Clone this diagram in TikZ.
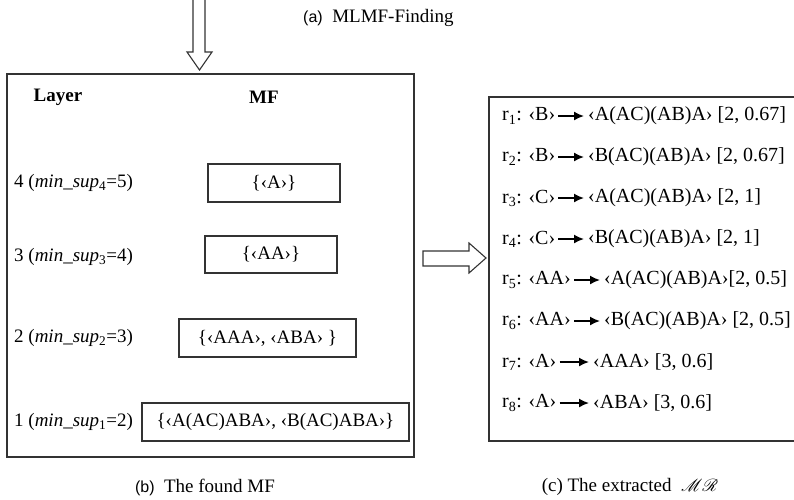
\documentclass[tikz,border=0pt]{standalone}
\usepackage{fontspec}
\setmainfont{Liberation Serif}
\newfontfamily\capsans{Liberation Sans}
\usepackage{mathrsfs}
\usetikzlibrary{positioning,arrows.meta}

\newcommand{\sql}{\char"2039\relax}
\newcommand{\sqr}{\char"203A\relax}
\newcommand{\supl}[1]{\textit{min\_sup}\textsubscript{#1}}

\begin{document}
\begin{tikzpicture}[x=1pt, y=-1pt,
frame/.style={draw=black!80, line width=1.2pt},
mfbox/.style={draw=black!80, line width=1.2pt, inner sep=0pt, font=\fontsize{19}{22}\selectfont},
layer/.style={anchor=west, inner sep=0pt, font=\fontsize{19}{22}\selectfont},
head/.style={inner sep=0pt, font=\fontsize{19}{22}\selectfont\bfseries},
lhs/.style={anchor=west, inner sep=0pt, font=\fontsize{20}{22}\selectfont},
rhs/.style={anchor=west, inner sep=0pt, font=\fontsize{20}{22}\selectfont},
implies/.style={-{Latex[length=10pt,width=9pt]}, line width=1.6pt, shorten <=3pt, shorten >=4pt},
caption/.style={inner sep=0pt, font=\fontsize{19}{22}\selectfont},
hollow/.style={draw=black!80, line width=1.1pt, fill=white}
]
\useasboundingbox (0,0) rectangle (794,499);

% layers and the found MF
\node[frame, minimum width=407pt, minimum height=383pt] (found) at (210.5,265.5) {};
\node[head] (layerhead) at (58,97) {Layer};
\node[head] (mfhead) at (264,97) {MF};

\node[layer] (l4) at (14,183) {4 (\supl{4}=5)};
\node[layer] (l3) at (14,257) {3 (\supl{3}=4)};
\node[layer] (l2) at (14,338) {2 (\supl{2}=3)};
\node[layer] (l1) at (14,422) {1 (\supl{1}=2)};

\node[mfbox, minimum width=132pt, minimum height=38pt] (mf4) at (274,183) {\{\sql A\sqr\}};
\node[mfbox, minimum width=132pt, minimum height=37pt] (mf3) at (271,254.5) {\{\sql AA\sqr\}};
\node[mfbox, minimum width=177pt, minimum height=38pt] (mf2) at (267.5,338) {\{\sql AAA\sqr, \sql ABA\sqr\ \}};
\node[mfbox, minimum width=267pt, minimum height=38pt] (mf1) at (275.5,422) {\{\sql A(AC)ABA\sqr, \sql B(AC)ABA\sqr\}};

% extracted rules
\node[frame, minimum width=311pt, minimum height=344pt] (rules) at (644.5,269) {};

\node[lhs] (a1) at (502,116) {r\textsubscript{1}: \sql B\sqr};
\node[rhs] (b1) at (588,116) {\sql A(AC)(AB)A\sqr\ [2, 0.67]};
\node[lhs] (a2) at (502,157) {r\textsubscript{2}: \sql B\sqr};
\node[rhs] (b2) at (588,157) {\sql B(AC)(AB)A\sqr\ [2, 0.67]};
\node[lhs] (a3) at (502,198) {r\textsubscript{3}: \sql C\sqr};
\node[rhs] (b3) at (588,198) {\sql A(AC)(AB)A\sqr\ [2, 1]};
\node[lhs] (a4) at (502,239) {r\textsubscript{4}: \sql C\sqr};
\node[rhs] (b4) at (588,239) {\sql B(AC)(AB)A\sqr\ [2, 1]};
\node[lhs] (a5) at (502,280) {r\textsubscript{5}: \sql AA\sqr};
\node[rhs] (b5) at (604,280) {\sql A(AC)(AB)A\sqr[2, 0.5]};
\node[lhs] (a6) at (502,321) {r\textsubscript{6}: \sql AA\sqr};
\node[rhs] (b6) at (604,321) {\sql B(AC)(AB)A\sqr\ [2, 0.5]};
\node[lhs] (a7) at (502,362) {r\textsubscript{7}: \sql A\sqr};
\node[rhs] (b7) at (593,362) {\sql AAA\sqr\ [3, 0.6]};
\node[lhs] (a8) at (502,403) {r\textsubscript{8}: \sql A\sqr};
\node[rhs] (b8) at (593,403) {\sql ABA\sqr\ [3, 0.6]};

\foreach \i in {1,...,8}
  \draw[implies] (a\i.east) -- (a\i.east -| b\i.west);

% block arrows
\draw[hollow] (193,0) -- (193,52) -- (187,52) -- (199.5,70) -- (212,52) -- (205,52) -- (205,0);
\draw[hollow] (423,251) -- (469,251) -- (469,243) -- (486,258) -- (469,273) -- (469,266) -- (423,266) -- cycle;

% captions
\node[caption, anchor=west] (capa) at (303,18) {{\capsans\fontsize{16}{20}\selectfont (a)}\ \ MLMF-Finding};
\node[caption] (capb) at (205,487) {{\capsans\fontsize{16}{20}\selectfont (b)}\ \ The found MF};
\node[caption] (capc) at (630,487) {(c) The extracted\ \ $\mathscr{MR}$};
\end{tikzpicture}
\end{document}
